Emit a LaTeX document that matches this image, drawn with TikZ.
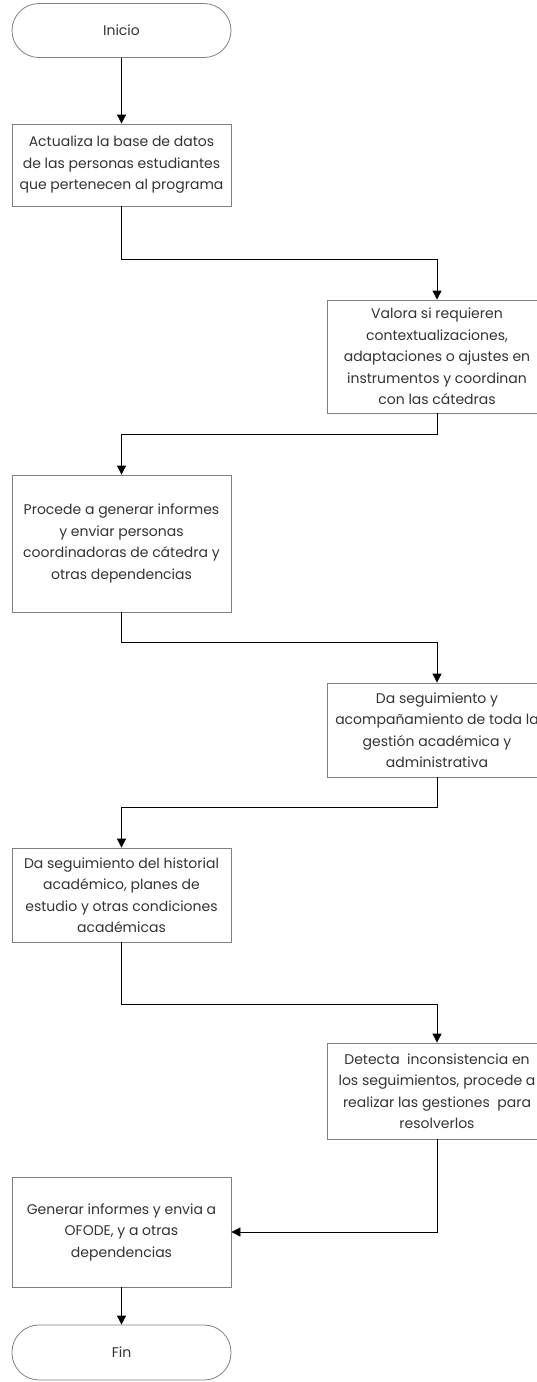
\documentclass[tikz,border=0pt]{standalone}
\usepackage{fontspec}
\setmainfont{Poppins}
\usetikzlibrary{arrows.meta}

\begin{document}
\begin{tikzpicture}[x=1pt,y=-1pt]
      \useasboundingbox (0,0) rectangle (536,1382);

      \begin{scope}[every node/.style={draw=gray, line width=0.8pt, align=center, text=black!80,
          inner sep=0pt, font=\fontsize{14}{21.5}\selectfont}]
        \node[minimum width=219pt, minimum height=54pt, rounded corners=27pt] (inicio) at (121.5,30.5) {Inicio};
        \node[minimum width=219pt, minimum height=82pt] (act)  at (121.5,165)  {Actualiza la base de datos\\de las personas estudiantes\\que pertenecen al programa};
        \node[minimum width=220pt, minimum height=113pt] (val) at (437,356.5) {Valora si requieren\\contextualizaciones,\\adaptaciones o ajustes en\\instrumentos y coordinan\\con las cátedras};
        \node[minimum width=219pt, minimum height=137pt] (proc) at (121.5,543.5) {Procede a generar informes\\y enviar personas\\coordinadoras de cátedra y\\otras dependencias};
        \node[minimum width=220pt, minimum height=94pt] (acomp) at (437,730) {Da seguimiento y\\acompañamiento de toda la\\gestión académica y\\administrativa};
        \node[minimum width=219pt, minimum height=94pt] (hist) at (121.5,895) {Da seguimiento del historial\\académico, planes de\\estudio y otras condiciones\\académicas};
        \node[minimum width=220pt, minimum height=96pt] (det) at (437,1091) {Detecta\ \ inconsistencia en\\los seguimientos, procede a\\realizar las gestiones\ \ para\\resolverlos};
        \node[minimum width=219pt, minimum height=110pt] (gen) at (121.5,1232) {Generar informes y envia a\\OFODE, y a otras\\dependencias};
        \node[minimum width=219pt, minimum height=55pt, rounded corners=27pt] (fin) at (121.5,1352.5) {Fin};
      \end{scope}

      \begin{scope}[every path/.style={draw, line width=0.8pt, -{Triangle[length=9pt,width=9pt]}}]
        \path (inicio) -- (act);
        \path (act.south)   -- ++(0,53) -| (val.north);
        \path (val.south)   -- ++(0,21) -| (proc.north);
        \path (proc.south)  -- ++(0,30) -| (acomp.north);
        \path (acomp.south) -- ++(0,30) -| (hist.north);
        \path (hist.south)  -- ++(0,62) -| (det.north);
        \path (det.south)   |- (gen.east);
        \path (gen) -- (fin);
      \end{scope}

    \end{tikzpicture}
\end{document}
